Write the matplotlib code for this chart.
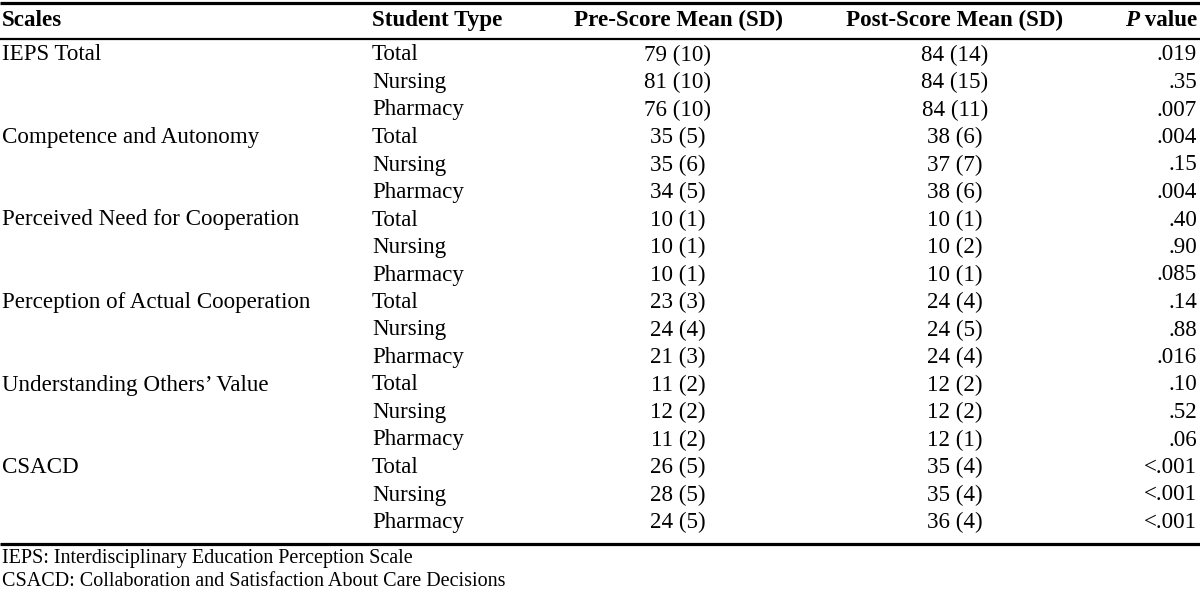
import matplotlib.pyplot as plt

# --- data ---
scales = ["IEPS Total", "Competence and Autonomy", "Perceived Need for Cooperation",
          "Perception of Actual Cooperation", "Understanding Others\u2019 Value", "CSACD"]
student_types = ["Total", "Nursing", "Pharmacy"]
pre_scores = ["79 (10)", "81 (10)", "76 (10)",
              "35 (5)", "35 (6)", "34 (5)",
              "10 (1)", "10 (1)", "10 (1)",
              "23 (3)", "24 (4)", "21 (3)",
              "11 (2)", "12 (2)", "11 (2)",
              "26 (5)", "28 (5)", "24 (5)"]
post_scores = ["84 (14)", "84 (15)", "84 (11)",
               "38 (6)", "37 (7)", "38 (6)",
               "10 (1)", "10 (2)", "10 (1)",
               "24 (4)", "24 (5)", "24 (4)",
               "12 (2)", "12 (2)", "12 (1)",
               "35 (4)", "35 (4)", "36 (4)"]
p_values = [".019", ".35", ".007",
            ".004", ".15", ".004",
            ".40", ".90", ".085",
            ".14", ".88", ".016",
            ".10", ".52", ".06",
            "<.001", "<.001", "<.001"]
footnotes = ["IEPS: Interdisciplinary Education Perception Scale",
             "CSACD: Collaboration and Satisfaction About Care Decisions"]

plt.rcParams["font.family"] = ["Liberation Serif", "DejaVu Serif"]
FS = 16.6

fig = plt.figure(figsize=(12, 5.93), dpi=100)
ax = fig.add_axes([0, 0, 1, 1])
ax.set_xlim(0, 1200)
ax.set_ylim(593, 0)
ax.axis("off")

x_scale, x_type, x_pre, x_post, x_p = 2, 372, 678, 955, 1197

# rules
ax.plot([0, 1200], [3, 3], color="black", lw=2.3, solid_capstyle="butt")
ax.plot([0, 1200], [38.5, 38.5], color="black", lw=1.6, solid_capstyle="butt")
ax.plot([0, 1200], [544, 544], color="black", lw=2.3, solid_capstyle="butt")

# header
hy = 20.5
ax.text(x_scale, hy, "Scales", fontsize=FS, fontweight="bold", va="center", ha="left")
ax.text(x_type, hy, "Student Type", fontsize=FS, fontweight="bold", va="center", ha="left")
ax.text(x_pre, hy, "Pre-Score Mean (SD)", fontsize=FS, fontweight="bold", va="center", ha="center")
ax.text(x_post, hy, "Post-Score Mean (SD)", fontsize=FS, fontweight="bold", va="center", ha="center")
t_val = ax.text(x_p, hy, " value", fontsize=FS, fontweight="bold", va="center", ha="right")
r = fig.canvas.get_renderer()
w = t_val.get_window_extent(renderer=r).width
ax.text(x_p - w, hy, "P", fontsize=FS, fontweight="bold", fontstyle="italic",
        va="center", ha="right")

# body
y0, dy = 55, 27.5
for i in range(len(pre_scores)):
    y = y0 + i * dy
    if i % 3 == 0:
        ax.text(x_scale, y, scales[i // 3], fontsize=FS, va="center", ha="left")
    ax.text(x_type, y, student_types[i % 3], fontsize=FS, va="center", ha="left")
    ax.text(x_pre, y, pre_scores[i], fontsize=FS, va="center", ha="center")
    ax.text(x_post, y, post_scores[i], fontsize=FS, va="center", ha="center")
    ax.text(x_p, y, p_values[i], fontsize=FS, va="center", ha="right")

# footnotes
for j, note in enumerate(footnotes):
    ax.text(x_scale, 559 + j * 23, note, fontsize=14.5, va="center", ha="left")

fig.savefig("out.png", dpi=100)
